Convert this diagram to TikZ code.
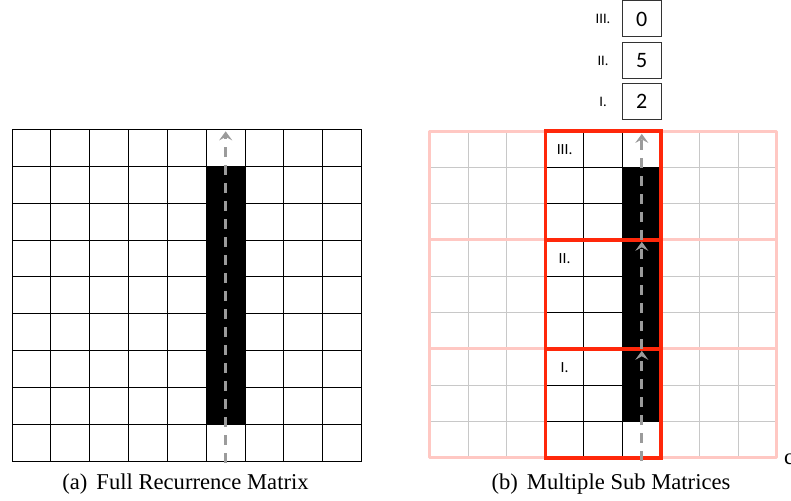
\documentclass[tikz,border=0pt]{standalone}
\usepackage{fontspec}
\setmainfont{Liberation Serif}
\newfontfamily\labfont{Carlito}
\usetikzlibrary{arrows.meta}
\definecolor{redline}{RGB}{255,40,10}
\definecolor{pinkline}{RGB}{255,200,195}
\definecolor{gridgray}{RGB}{200,200,200}
\definecolor{arrowgray}{RGB}{155,155,155}
\begin{document}
\begin{tikzpicture}[x=1pt,y=-1pt,
  flow/.style={draw=arrowgray, line width=3pt, dash pattern=on 10pt off 8pt,
    -{Stealth[length=9pt,width=13pt,inset=3.5pt]}},
  cellline/.style={line width=1pt},
  pinkbar/.style={draw=pinkline, line width=3pt, line join=round},
  redbox/.style={draw=redline, line width=3.5pt},
  sublab/.style={font=\labfont\fontsize{15.5}{15.5}\selectfont},
  toplab/.style={font=\labfont\fontsize{14.5}{14.5}\selectfont},
  digitbox/.style={draw=black!80, line width=1pt, minimum width=39pt, minimum height=36pt,
    inner sep=0pt, font=\labfont\fontsize{22}{22}\selectfont},
  captext/.style={font=\fontsize{22.6}{22.6}\selectfont, inner sep=0pt}]
\useasboundingbox (0,0) rectangle (791,500);
\fill[white] (0,0) rectangle (791,500);

% ---------- (a) full matrix ----------
\begin{scope}[shift={(12,129.5)}, x=38.85pt, y=-36.86pt]
  \fill (5,1) rectangle (6,8);
  \foreach \i in {0,...,9} {
    \draw[cellline] (\i,0) -- (\i,9);
    \draw[cellline] (0,\i) -- (9,\i);
  }
  \coordinate (la0) at (5.5,9.05);
  \coordinate (la1) at (5.5,0.05);
\end{scope}
\draw[flow] (la0) -- (la1);

% ---------- (b) sub matrices ----------
\begin{scope}[shift={(429.5,131)}, x=38.6pt, y=-36.33pt]
  \fill (5,1) rectangle (6,8);
  \foreach \i in {1,...,8} \draw[gridgray, cellline] (\i,0) -- (\i,9);
  \foreach \j in {1,2,4,5,7,8} \draw[gridgray, cellline] (0,\j) -- (9,\j);
  \draw[cellline] (4,0) -- (4,9);
  \draw[cellline] (5,0) -- (5,9);
  \foreach \j in {1,2,4,5,7,8} \draw[cellline] (3,\j) -- (6,\j);
  \draw[pinkbar] (0,0) rectangle (9,9);
  \draw[pinkbar] (0,3) -- (9,3);
  \draw[pinkbar] (0,6) -- (9,6);
  \draw[redbox] (3,0) rectangle (6,3);
  \draw[redbox] (3,3) rectangle (6,6);
  \draw[redbox] (3,6) rectangle (6,9);
  \node[sublab] (s3) at (3.5,0.5) {III.};
  \node[sublab] (s2) at (3.5,3.5) {II.};
  \node[sublab] (s1) at (3.5,6.5) {I.};
  \coordinate (r0) at (5.5,9.08);
  \coordinate (r1) at (5.5,6.05);
  \coordinate (r2) at (5.5,6);
  \coordinate (r3) at (5.5,3.05);
  \coordinate (r4) at (5.5,3);
  \coordinate (r5) at (5.5,0.08);
\end{scope}
\draw[flow] (r0) -- (r1);
\draw[flow] (r2) -- (r3);
\draw[flow] (r4) -- (r5);

% ---------- stacked values ----------
\node[digitbox] (b3) at (641.6,19) {0};
\node[digitbox] (b2) at (641.6,61) {5};
\node[digitbox] (b1) at (641.6,101.5) {2};
\node[toplab] (t3) at (603,19) {III.};
\node[toplab] (t2) at (603,61) {II.};
\node[toplab] (t1) at (603,101.5) {I.};

% ---------- captions ----------
\node[captext] (capa) at (185.5,484) {(a)\hspace{0.4em}Full Recurrence Matrix};
\node[captext] (capb) at (611,484) {(b)\hspace{0.4em}Multiple Sub Matrices};
\node[captext, anchor=west] (capc) at (784,459) {c};
\end{tikzpicture}
\end{document}
